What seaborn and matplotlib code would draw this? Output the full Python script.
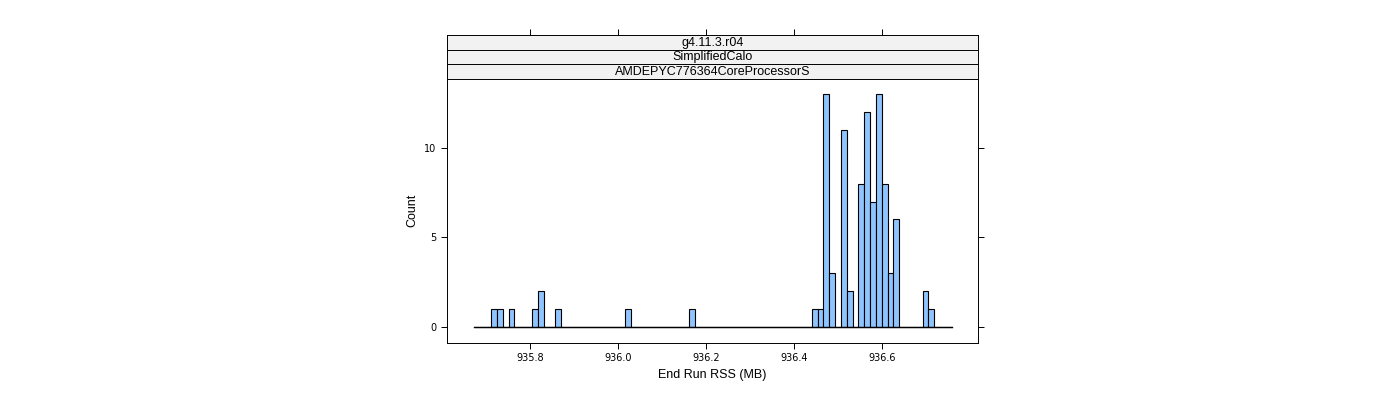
import matplotlib
matplotlib.use("Agg")
import matplotlib.pyplot as plt
import seaborn as sns
import numpy as np
import pandas as pd

bin_index = [0, 1, 3, 7, 8, 11, 23, 34, 55, 56, 57, 58, 60, 61, 63, 64, 65, 66, 67, 68, 69, 74, 75]
counts =    [1, 1, 1, 1, 2, 1, 1, 1, 1, 1, 13, 3, 11, 2, 8, 12, 7, 13, 8, 3, 6, 2, 1]
x_start = 935.7114
bw = 0.01325
strips = ["g4.11.3.r04", "SimplifiedCalo", "AMDEPYC776364CoreProcessorS"]

values = [x_start + (i + 0.5) * bw for i in bin_index]
edges = [float(e) for e in x_start + bw * np.arange(-3, 80)]
df = pd.DataFrame({"rss": values, "n": counts})

fig = plt.figure(figsize=(14, 4), dpi=100)
ax = fig.add_axes([447/1400, 1-343/400, 531/1400, 265/400])
sns.histplot(data=df, x="rss", weights="n", bins=edges, ax=ax, color="#8fc5ff",
             edgecolor="black", linewidth=0.8, alpha=1)
ax.plot([edges[0], edges[-1]], [0, 0], color="black", lw=1)
ax.set_xlim(935.611, 936.818)
ax.set_ylim(-0.9, 13.9)
ax.set_xticks([935.8, 936.0, 936.2, 936.4, 936.6])
ax.set_xticklabels(["935.8", "936.0", "936.2", "936.4", "936.6"], fontsize=7)
ax.set_yticks([0, 5, 10])
ax.set_yticklabels(["0", "5", "10"], fontsize=7)
ax.tick_params(direction="out", length=4, width=0.7, right=True)
ax.set_xlabel("End Run RSS (MB)", fontsize=9, fontfamily="Liberation Sans")
ax.set_ylabel("Count", fontsize=9, fontfamily="Liberation Sans")
for s in ax.spines.values():
    s.set_linewidth(0.7)

for k, t in enumerate(strips):
    top = 35 + 14.5 * k
    sa = fig.add_axes([447/1400, 1-(top+14.5)/400, 531/1400, 14.5/400])
    sa.set_facecolor("#f2f2f2")
    sa.set_xticks([]); sa.set_yticks([])
    for s in sa.spines.values():
        s.set_linewidth(0.7)
    sa.text(0.5, 0.45, t, ha="center", va="center", fontsize=9,
            fontfamily="Liberation Sans", transform=sa.transAxes)
    if k == 0:
        sa.set_xlim(ax.get_xlim())
        sa.set_xticks([935.8, 936.0, 936.2, 936.4, 936.6])
        sa.tick_params(axis="x", top=True, bottom=False, labeltop=False,
                       labelbottom=False, direction="out", length=4, width=0.7)

fig.savefig("out.png", dpi=100)
